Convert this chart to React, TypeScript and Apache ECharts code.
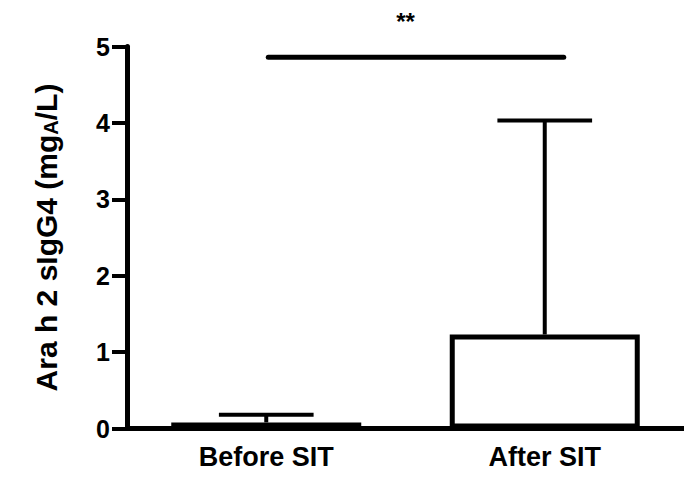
import React, { useEffect, useRef } from "react";
import * as echarts from "echarts";

const categories = ["Before SIT", "After SIT"];
const means = [0.08, 1.23];
const upperErrors = [0.18, 4.03];
const yTicks = { min: 0, max: 5, interval: 1 };
const significance = { label: "**", y: 4.86 };

const FONT = "'Liberation Sans', Arial, Helvetica, sans-serif";

export default function App() {
  const ref = useRef<HTMLDivElement>(null);
  useEffect(() => {
    if (!ref.current) return;
    const chart = echarts.init(ref.current, null, { renderer: "svg" });
    const errData = categories.map((_, i) => [i, means[i], upperErrors[i]]);
    chart.setOption({
      animation: false,
      backgroundColor: "#ffffff",
      grid: { left: 127, right: -15, top: 46.5, bottom: 49.5, containLabel: false },
      xAxis: {
        type: "category",
        data: categories,
        boundaryGap: true,
        axisLine: { lineStyle: { color: "#000", width: 5 } },
        axisTick: { alignWithLabel: true, length: 14, lineStyle: { color: "#000", width: 4 } },
        axisLabel: { color: "#000", fontSize: 27, fontWeight: "bold", fontFamily: FONT, margin: 15 },
        splitLine: { show: false },
      },
      yAxis: {
        type: "value",
        min: yTicks.min,
        max: yTicks.max,
        interval: yTicks.interval,
        name: "{a|Ara h 2 sIgG4 (mg}{b|A}{a|/L)}",
        nameLocation: "middle",
        nameGap: 66,
        nameTextStyle: {
          rich: {
            a: { fontSize: 30, fontWeight: "bold", fontFamily: FONT, color: "#000", lineHeight: 32, verticalAlign: "bottom" },
            b: { fontSize: 20, fontWeight: "bold", fontFamily: FONT, color: "#000", lineHeight: 32, verticalAlign: "bottom", padding: [14, 0, 0, 0] },
          },
        },
        axisLine: { show: true, lineStyle: { color: "#000", width: 5 } },
        axisTick: { show: true, length: 15, lineStyle: { color: "#000", width: 4 } },
        axisLabel: { color: "#000", fontSize: 25, fontWeight: "bold", fontFamily: FONT, margin: 17, padding: [6, 0, 0, 0] },
        splitLine: { show: false },
      },
      series: [
        {
          type: "bar",
          data: means,
          barWidth: 190,
          itemStyle: { color: "#fff", borderColor: "#000", borderWidth: 5 },
          z: 2,
        },
        {
          type: "custom",
          data: errData,
          z: 3,
          renderItem: (params: any, api: any) => {
            const x = api.value(0);
            const top = api.coord([x, api.value(1)]);
            const up = api.coord([x, api.value(2)]);
            const half = api.size([1, 0])[0] * 0.17;
            return {
              type: "group",
              children: [
                { type: "line", shape: { x1: top[0], y1: top[1], x2: up[0], y2: up[1] }, style: { stroke: "#000", lineWidth: 4 } },
                { type: "line", shape: { x1: up[0] - half, y1: up[1], x2: up[0] + half, y2: up[1] }, style: { stroke: "#000", lineWidth: 4 } },
              ],
            };
          },
        },
        {
          type: "custom",
          data: [[0, significance.y]],
          z: 3,
          renderItem: (params: any, api: any) => {
            const p0 = api.coord([0, significance.y]);
            const p1 = api.coord([1, significance.y]);
            const mid = (p0[0] + p1[0]) / 2;
            return {
              type: "group",
              children: [
                { type: "line", shape: { x1: p0[0] + 2, y1: p0[1], x2: p1[0] + 19, y2: p1[1] }, style: { stroke: "#000", lineWidth: 5, lineCap: "round" } },
                { type: "text", x: mid, y: p0[1] - 36, style: { text: significance.label, fill: "#000", font: `bold 24px ${FONT}`, align: "center", verticalAlign: "middle" } },
              ],
            };
          },
        },
      ],
    });
    return () => chart.dispose();
  }, []);
  return (
    <div
      ref={ref}
      style={{ position: "fixed", left: 0, top: 0, width: 684, height: 478, background: "#fff" }}
    />
  );
}
